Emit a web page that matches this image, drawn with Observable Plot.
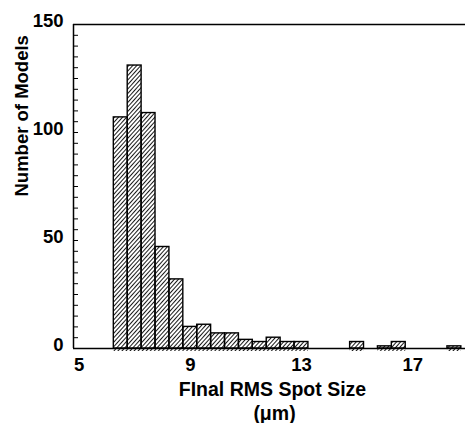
<!DOCTYPE html>
<html>
<head>
<meta charset="utf-8">
<script src="https://cdn.jsdelivr.net/npm/d3@7"></script>
<script src="https://cdn.jsdelivr.net/npm/@observablehq/plot@0.6"></script>
<style>
  html, body { margin: 0; padding: 0; background: #fff; }
</style>
</head>
<body>
<div id="chart"></div>
<script>
// Histogram of final RMS spot sizes (bins of 0.5 µm, labelled by bin centre)
const binCenters = [6.5, 7.0, 7.5, 8.0, 8.5, 9.0, 9.5, 10.0, 10.5, 11.0, 11.5, 12.0, 12.5, 13.0, 15.0, 16.0, 16.5, 18.5];
const counts     = [107, 131, 109, 47, 32, 10, 11, 7, 7, 4, 3, 5, 3, 3, 3, 1, 3, 1];
const binWidth = 0.5;

const xTicks = [5, 9, 13, 17];
const yTicks = [0, 50, 100, 150];
const yMinorStep = 5;

const xDomain = [4.8, 18.9];
const yDomain = [0, 150];

const xTitle = "FInal RMS Spot Size";
const xUnit = "(μm)";
const yTitle = "Number of Models";

const bins = binCenters.map((c, i) => ({
  x1: c - binWidth / 2,
  x2: c + binWidth / 2,
  count: counts[i]
}));
const yMinorTicks = d3.range(yDomain[0], yDomain[1] + 1, yMinorStep);

const W = 465, H = 423;
const mL = 73, mR = 0, mT = 24, mB = 75;
const tickLen = 5;
const font = "'Liberation Sans', Arial, Helvetica, sans-serif";

const chart = Plot.plot({
  width: W,
  height: H,
  marginLeft: mL,
  marginRight: mR,
  marginTop: mT,
  marginBottom: mB,
  style: {
    fontFamily: font,
    fontSize: "18.5px",
    fontWeight: "bold",
    color: "#000",
    background: "#fff"
  },
  x: { domain: xDomain },
  y: { domain: yDomain },
  marks: [
    // hatched bar bodies (the hatch runs a little below the baseline)
    Plot.rect(bins, { x1: "x1", x2: "x2", y1: 0, y2: "count", fill: "url(#hatch)", insetBottom: -3 }),
    // bar outlines
    Plot.rect(bins, { x1: "x1", x2: "x2", y1: 0, y2: "count", fill: "none", stroke: "#000", strokeWidth: 1.4 }),
    // frame lines: left, bottom and top
    Plot.ruleX([xDomain[0]], { stroke: "#000", strokeWidth: 1.5 }),
    Plot.ruleY([yDomain[0], yDomain[1]], { stroke: "#000", strokeWidth: 1.5 }),
    // inward y ticks every 5
    Plot.tickY(yMinorTicks, { y: d => d, stroke: "#000", strokeWidth: 1, insetRight: W - mL - mR - tickLen }),
    Plot.axisY(yTicks, { tickSize: 0, tickPadding: 10, dy: -3, label: null }),
    Plot.axisX(xTicks, { tickSize: 0, tickPadding: 9, label: null }),
    Plot.text([yTitle], {
      frameAnchor: "left", rotate: -90, lineAnchor: "bottom",
      dx: -46, dy: 10, fontSize: 18.5, ariaLabel: "y-title"
    }),
    Plot.text([xTitle], {
      frameAnchor: "bottom", lineAnchor: "bottom",
      dx: 3, dy: 47, fontSize: 19.5, ariaLabel: "x-title"
    }),
    Plot.text([xUnit], {
      frameAnchor: "bottom", lineAnchor: "bottom",
      dx: 5, dy: 71, fontSize: 19.5, ariaLabel: "x-unit"
    })
  ]
});

// diagonal hatch pattern used by the bars
d3.select(chart).insert("defs", ":first-child").html(
  `<pattern id="hatch" patternUnits="userSpaceOnUse" width="3" height="3" patternTransform="rotate(42)">
     <rect width="3" height="3" fill="#fff"></rect>
     <line x1="1.5" y1="0" x2="1.5" y2="3" stroke="#000" stroke-width="0.9"></line>
   </pattern>`
);

// slightly spaced lettering for the axis titles
d3.select(chart).selectAll('g[aria-label="y-title"] text').attr("letter-spacing", "1.6px");
d3.select(chart).selectAll('g[aria-label="x-title"] text').attr("letter-spacing", "0.8px");

document.getElementById("chart").appendChild(chart);
</script>
</body>
</html>
